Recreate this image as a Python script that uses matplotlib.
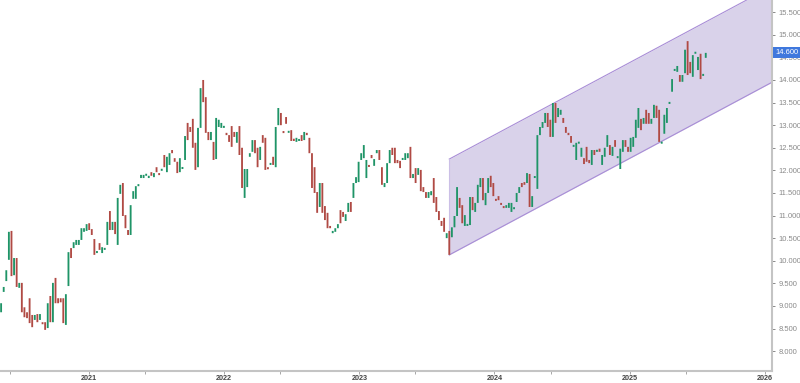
import numpy as np
import pandas as pd
import matplotlib
matplotlib.use('Agg')
import matplotlib.pyplot as plt
import matplotlib.dates as mdates

plt.rcParams['font.family'] = ['Liberation Sans', 'DejaVu Sans']

# weekly bars
dates = pd.date_range('2020-05-08', periods=273, freq='7D')

opens = [
    8.86, 9.31, 9.55, 10.02, 10.66, 9.68, 10.06, 9.40, 9.51, 8.97,
    8.86, 9.17, 8.80, 8.69, 8.82, 8.69, 8.64, 8.64, 8.51, 9.22,
    8.64, 9.62, 9.17, 9.17, 9.17, 8.58, 9.44, 10.28, 10.28, 10.35,
    10.35, 10.46, 10.64, 10.66, 10.83, 10.70, 10.48, 10.17, 10.39, 10.17,
    10.24, 10.35, 11.10, 10.68, 10.86, 10.35, 11.48, 11.72, 11.01, 10.68,
    10.57, 11.37, 11.37, 11.65, 11.83, 11.83, 11.88, 11.83, 11.96, 11.85,
    12.07, 11.94, 11.99, 12.34, 11.96, 12.12, 12.45, 12.27, 12.19, 11.96,
    12.03, 12.23, 13.05, 12.96, 13.14, 12.61, 12.07, 12.94, 14.00, 13.62,
    12.85, 12.67, 12.63, 12.25, 12.96, 12.94, 12.94, 12.83, 12.78, 12.98,
    12.85, 12.61, 12.98, 12.50, 11.39, 11.63, 12.30, 12.41, 12.67, 12.50,
    12.23, 12.78, 12.72, 12.07, 12.12, 12.30, 12.07, 13.00, 13.27, 12.87,
    13.18, 12.83, 12.89, 12.70, 12.63, 12.65, 12.78, 12.67, 12.83, 12.72,
    12.38, 12.07, 11.52, 11.19, 11.72, 11.21, 11.06, 10.77, 10.61, 10.64,
    10.72, 11.12, 11.08, 10.88, 11.08, 11.30, 11.39, 11.72, 11.74, 12.23,
    12.27, 11.83, 12.12, 12.34, 12.10, 12.38, 12.45, 12.07, 11.63, 11.72,
    12.16, 12.50, 12.50, 12.23, 12.21, 12.23, 12.23, 12.27, 12.52, 11.83,
    12.05, 11.90, 12.01, 11.63, 11.52, 11.39, 11.45, 11.83, 11.41, 11.10,
    10.88, 10.95, 10.50, 10.66, 10.52, 10.74, 10.99, 11.39, 11.23, 10.77,
    10.77, 10.79, 11.41, 11.08, 11.28, 11.63, 11.83, 11.23, 11.50, 11.88,
    11.72, 11.37, 11.43, 11.28, 11.21, 11.17, 11.17, 11.08, 11.14, 11.30,
    11.50, 11.72, 11.74, 11.72, 11.92, 11.19, 11.83, 11.59, 12.78, 12.94,
    13.05, 13.27, 13.12, 12.74, 13.49, 13.18, 13.23, 13.16, 12.96, 12.83,
    12.76, 12.52, 12.23, 12.59, 12.30, 12.27, 12.52, 12.23, 12.12, 12.45,
    12.41, 12.48, 12.12, 12.30, 12.52, 12.56, 12.32, 12.67, 12.27, 12.03,
    12.41, 12.67, 12.52, 12.41, 12.52, 12.72, 12.94, 13.14, 13.03, 13.34,
    13.27, 13.03, 13.16, 13.43, 13.34, 12.59, 12.81, 13.05, 13.47, 13.74,
    14.20, 14.18, 14.11, 13.96, 14.15, 14.86, 14.40, 14.07, 14.58, 14.22,
    14.58, 14.09, 14.49,
]
closes = [
    9.06, 9.42, 9.79, 10.64, 9.66, 10.06, 9.42, 9.51, 8.86, 8.75,
    8.73, 8.62, 8.53, 8.80, 8.64, 8.82, 8.62, 8.47, 9.06, 8.64,
    9.51, 9.06, 9.06, 9.08, 8.62, 9.26, 10.19, 10.06, 10.41, 10.46,
    10.46, 10.72, 10.72, 10.81, 10.68, 10.57, 10.13, 10.19, 10.24, 10.30,
    10.28, 10.86, 10.68, 10.86, 10.59, 11.39, 11.68, 10.99, 10.72, 10.57,
    11.23, 11.54, 11.65, 11.68, 11.90, 11.90, 11.92, 11.88, 11.88, 11.94,
    11.96, 11.92, 12.03, 12.07, 12.30, 12.38, 12.38, 12.19, 11.94, 12.27,
    12.07, 12.76, 12.67, 12.85, 12.50, 12.01, 12.94, 13.82, 13.51, 12.83,
    12.67, 12.85, 12.23, 13.16, 13.12, 13.05, 12.98, 12.78, 12.63, 12.52,
    12.74, 12.85, 12.34, 11.61, 12.03, 12.03, 12.38, 12.67, 12.38, 12.07,
    12.52, 12.61, 12.01, 12.03, 12.16, 12.12, 12.96, 13.38, 13.00, 12.83,
    13.03, 12.87, 12.65, 12.65, 12.72, 12.67, 12.65, 12.85, 12.78, 12.38,
    11.61, 11.50, 11.06, 11.72, 11.06, 10.90, 10.72, 10.72, 10.66, 10.72,
    10.81, 10.83, 10.97, 11.03, 11.28, 11.08, 11.72, 11.85, 12.19, 12.38,
    12.56, 12.23, 12.10, 12.27, 12.25, 12.45, 12.23, 11.68, 11.72, 12.16,
    12.45, 12.34, 12.16, 12.16, 12.05, 12.27, 12.38, 12.38, 11.83, 11.92,
    11.72, 12.05, 11.54, 11.52, 11.39, 11.52, 11.54, 11.28, 11.08, 10.90,
    10.77, 10.64, 10.61, 10.13, 10.74, 10.99, 11.63, 11.17, 10.83, 11.01,
    10.79, 11.41, 11.12, 11.28, 11.68, 11.83, 11.34, 11.50, 11.83, 11.63,
    11.43, 11.34, 11.34, 11.26, 11.17, 11.23, 11.28, 11.28, 11.17, 11.50,
    11.63, 11.63, 11.68, 11.94, 11.19, 11.43, 11.85, 12.78, 12.96, 13.07,
    13.27, 12.96, 12.74, 13.49, 13.05, 13.38, 13.34, 13.05, 12.83, 12.78,
    12.61, 12.56, 12.61, 12.61, 12.50, 12.14, 12.19, 12.16, 12.45, 12.34,
    12.43, 12.41, 12.34, 12.50, 12.78, 12.34, 12.52, 12.52, 12.30, 12.48,
    12.67, 12.52, 12.41, 12.72, 12.74, 13.12, 13.38, 12.89, 13.16, 13.03,
    13.03, 13.14, 13.45, 13.16, 12.63, 12.61, 13.23, 13.38, 13.51, 14.02,
    14.22, 14.31, 13.96, 14.11, 14.67, 14.11, 14.15, 14.55, 14.60, 14.51,
    14.02, 14.11, 14.60,
]

# trend channel (parallel lines)
chan_dates = [dates[173], pd.Timestamp('2026-01-20')]
chan_lower = [10.13, 13.95]
chan_upper = [12.25, 16.07]

last_price = 14.60

o = np.array(opens)
c = np.array(closes)
h = c - o
h = np.where(np.abs(h) < 0.045, np.where(h >= 0, 0.045, -0.045), h)
colors = np.where(c >= o, '#1f9467', '#b04a44')

fig = plt.figure(figsize=(8, 3.83), dpi=100)
ax = fig.add_axes([0, 12 / 383, 772 / 800, 371 / 383])

ax.fill_between(chan_dates, chan_lower, chan_upper, color='#d9d2ea', lw=0, zorder=0)
ax.plot(chan_dates, chan_lower, color='#a88dd6', lw=0.8, zorder=1)
ax.plot(chan_dates, chan_upper, color='#a88dd6', lw=0.8, zorder=1)
ax.plot([chan_dates[0], chan_dates[0]], [chan_lower[0], chan_upper[0]], color='#cbbfe6', lw=0.8, zorder=1)

bars = ax.bar(dates, h, bottom=o, width=5.0, color=colors, linewidth=0, zorder=2)
for b in bars:
    b.set_snap(False)

ax.set_xlim(dates[0] - pd.Timedelta(days=3), pd.Timestamp('2026-01-20'))
ax.set_ylim(7.56, 15.77)

ax.yaxis.tick_right()
ax.set_yticks(np.arange(8.0, 15.51, 0.5))
ax.set_yticklabels([f'{v:.3f}' for v in np.arange(8.0, 15.51, 0.5)])
ax.tick_params(axis='y', labelsize=5.5, colors='#777777', length=2.5, width=0.6, pad=2)
for lab in ax.get_yticklabels():
    lab.set_color('#8a8a8a')

ax.xaxis.set_major_locator(mdates.YearLocator())
ax.xaxis.set_major_formatter(mdates.DateFormatter('%Y'))
ax.xaxis.set_minor_locator(mdates.MonthLocator(bymonth=6))
ax.tick_params(axis='x', which='both', length=2, width=0.6, colors='#999999', pad=1)
for lab in ax.get_xticklabels():
    lab.set_fontsize(5.2)
    lab.set_fontweight('bold')
    lab.set_color('#444444')

for s in ['top', 'left']:
    ax.spines[s].set_visible(False)
for s in ['right', 'bottom']:
    ax.spines[s].set_color('#c4c4c4')
    ax.spines[s].set_linewidth(1.5)

ax.text(1.004, last_price, f'{last_price:.3f}', transform=ax.get_yaxis_transform(),
        fontsize=5.5, color='white', va='center', ha='left', clip_on=False,
        bbox=dict(boxstyle='square,pad=0.25', fc='#3f78dd', ec='none'))

fig.savefig('out.png', dpi=100)
